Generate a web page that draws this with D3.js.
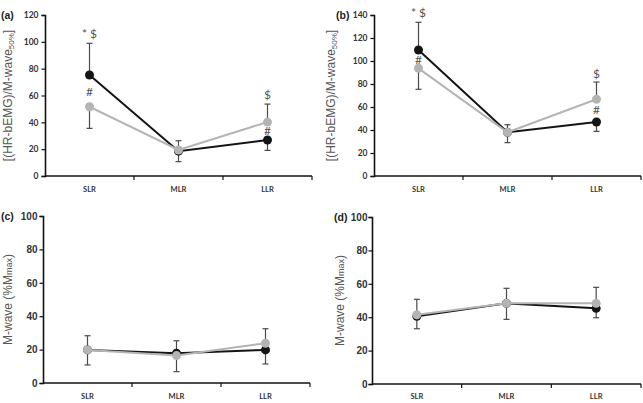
<!DOCTYPE html>
<html>
<head>
<meta charset="utf-8">
<script src="https://cdn.jsdelivr.net/npm/d3@7"></script>
<style>
  body { margin: 0; background: #fff; }
</style>
</head>
<body>
<div id="chart"></div>
<script>
// data
// errors are signed: positive = bar drawn upward, negative = downward
const categories = ['SLR', 'MLR', 'LLR'];

const aBlack = [75.3, 18.5, 26.8];
const aGray = [51.6, 19.4, 40.2];
const aBlackErr = [23.6, -7.8, -7.7];
const aGrayErr = [-16.1, 6.9, 13.4];

const bBlack = [109.6, 38, 47];
const bGray = [93.6, 38, 66.7];
const bBlackErr = [24, -9, -8.2];
const bGrayErr = [-18.2, 6.6, 15];

const cBlack = [19.8, 17.8, 19.8];
const cGray = [19.8, 16.4, 23.8];
const cBlackErr = [8.5, 7.5, -8.4];
const cGrayErr = [-9, -9.6, 8.7];

const dBlack = [40.6, 48.3, 45.3];
const dGray = [41.5, 48.3, 48.3];
const dBlackErr = [-7.5, 9, -5.6];
const dGrayErr = [9.2, -9.6, 9.6];

// significance marks: category, value level, text
const aMarks = [
  { cat: 'SLR', v: 106, t: '* $' },
  { cat: 'SLR', v: 63, t: '#' },
  { cat: 'LLR', v: 60.5, t: '$' },
  { cat: 'LLR', v: 34, t: '#' }
];
const bMarks = [
  { cat: 'SLR', v: 142, t: '* $' },
  { cat: 'SLR', v: 101.5, t: '#' },
  { cat: 'LLR', v: 89.3, t: '$' },
  { cat: 'LLR', v: 57.4, t: '#' }
];

const svg = d3.select('#chart').append('svg')
  .attr('width', 643)
  .attr('height', 403);

const blackCol = '#141414';
const grayCol = '#b4b4b4';
const errCol = '#4a4a4a';

const panels = [
  { tag: '(a)', black: aBlack, gray: aGray, bErr: aBlackErr, gErr: aGrayErr, marks: aMarks,
    yMax: 120, x0: 45, x1: 312, y0: 176, y1: 15, tickFont: 'Lato, sans-serif', tickSize: 8.5, tickPad: 3,
    label: 'hr', labelX: 8, tagX: 1, tagY: 19, xLabY: 192 },
  { tag: '(b)', black: bBlack, gray: bGray, bErr: bBlackErr, gErr: bGrayErr, marks: bMarks,
    yMax: 140, x0: 374, x1: 641, y0: 176, y1: 15, tickFont: 'Lato, sans-serif', tickSize: 8.5, tickPad: 3,
    label: 'hr', labelX: 331, tagX: 336, tagY: 19, xLabY: 192 },
  { tag: '(c)', black: cBlack, gray: cGray, bErr: cBlackErr, gErr: cGrayErr, marks: [],
    yMax: 100, x0: 43, x1: 310, y0: 383, y1: 216, tickFont: 'Liberation Sans, Arial, sans-serif', tickSize: 10, tickPad: 2,
    label: 'mw', labelX: 8, tagX: 1, tagY: 220, xLabY: 399 },
  { tag: '(d)', black: dBlack, gray: dGray, bErr: dBlackErr, gErr: dGrayErr, marks: [],
    yMax: 100, x0: 372, x1: 641, y0: 384, y1: 217, tickFont: 'Liberation Sans, Arial, sans-serif', tickSize: 10, tickPad: 1,
    label: 'mw', labelX: 340, tagX: 334, tagY: 221, xLabY: 399 }
];

panels.forEach(p => {
  const g = svg.append('g');

  const x = d3.scaleBand().domain(categories).range([p.x0, p.x1]);
  const y = d3.scaleLinear().domain([0, p.yMax]).range([p.y0, p.y1]);
  const cx = c => x(c) + x.bandwidth() / 2;

  // y axis
  const yAxis = g.append('g')
    .attr('transform', `translate(${p.x0},0)`)
    .call(d3.axisLeft(y).tickValues(d3.range(0, p.yMax + 1, 20)).tickSize(3.5).tickPadding(p.tickPad));
  yAxis.select('.domain').attr('stroke', '#111').attr('stroke-width', 1.6);
  yAxis.selectAll('.tick line').attr('stroke', '#111').attr('stroke-width', 1.2);
  yAxis.selectAll('.tick text')
    .attr('font-family', p.tickFont)
    .attr('font-size', p.tickSize)
    .attr('font-weight', 'bold')
    .attr('fill', '#333');

  // x axis, ticks at band edges pointing down
  g.append('line')
    .attr('x1', p.x0).attr('x2', p.x1)
    .attr('y1', p.y0).attr('y2', p.y0)
    .attr('stroke', '#111').attr('stroke-width', 1.6);
  categories.forEach((c, i) => {
    g.append('line')
      .attr('x1', x(c) + x.bandwidth()).attr('x2', x(c) + x.bandwidth())
      .attr('y1', p.y0).attr('y2', p.y0 + 4)
      .attr('stroke', '#111').attr('stroke-width', 1.2);
    g.append('text')
      .attr('x', cx(c))
      .attr('y', p.xLabY)
      .attr('text-anchor', 'middle')
      .attr('font-family', 'Lato, sans-serif')
      .attr('font-size', 7.5)
      .attr('font-weight', 'bold')
      .attr('fill', '#333')
      .text(c);
  });

  // y label
  const midY = (p.y0 + p.y1) / 2;
  const lab = g.append('text')
    .attr('transform', `translate(${p.labelX},${midY}) rotate(-90)`)
    .attr('text-anchor', 'middle')
    .attr('dominant-baseline', 'central')
    .attr('font-family', 'Liberation Sans, Arial, sans-serif')
    .attr('font-size', 12)
    .attr('fill', '#555');
  if (p.label === 'hr') {
    lab.append('tspan').text('[(HR-bEMG)/M-wave');
    lab.append('tspan').attr('font-size', 8).attr('dy', 3).text('50%');
    lab.append('tspan').attr('dy', -3).text(']');
  } else {
    lab.append('tspan').text('M-wave (%M');
    lab.append('tspan').attr('font-size', 9).attr('dy', 1).text('max');
    lab.append('tspan').attr('dy', -1).text(')');
  }

  // panel tag
  g.append('text')
    .attr('x', p.tagX).attr('y', p.tagY)
    .attr('font-family', 'Liberation Sans, Arial, sans-serif')
    .attr('font-size', 10.5)
    .attr('font-weight', 'bold')
    .attr('fill', '#222')
    .text(p.tag);

  // error bars
  const series = [
    { vals: p.black, errs: p.bErr, col: blackCol },
    { vals: p.gray, errs: p.gErr, col: grayCol }
  ];
  series.forEach(s => {
    categories.forEach((c, i) => {
      const yy = y(s.vals[i] + s.errs[i]);
      g.append('line')
        .attr('x1', cx(c)).attr('x2', cx(c))
        .attr('y1', y(s.vals[i])).attr('y2', yy)
        .attr('stroke', errCol).attr('stroke-width', 1.2);
      g.append('line')
        .attr('x1', cx(c) - 3).attr('x2', cx(c) + 3)
        .attr('y1', yy).attr('y2', yy)
        .attr('stroke', errCol).attr('stroke-width', 1.2);
    });
  });

  // lines and markers
  const line = d3.line().x((d, i) => cx(categories[i])).y(d => y(d));
  series.forEach(s => {
    g.append('path')
      .datum(s.vals)
      .attr('d', line)
      .attr('fill', 'none')
      .attr('stroke', s.col)
      .attr('stroke-width', 2);
    g.selectAll(null)
      .data(s.vals)
      .enter().append('circle')
      .attr('cx', (d, i) => cx(categories[i]))
      .attr('cy', d => y(d))
      .attr('r', 4.5)
      .attr('fill', s.col);
  });

  // significance marks
  p.marks.forEach(m => {
    g.append('text')
      .attr('x', cx(m.cat))
      .attr('y', y(m.v))
      .attr('text-anchor', 'middle')
      .attr('dominant-baseline', 'central')
      .attr('font-family', 'Lato, sans-serif')
      .attr('font-size', 12)
      .attr('fill', '#555')
      .text(m.t);
  });
});
</script>
</body>
</html>
